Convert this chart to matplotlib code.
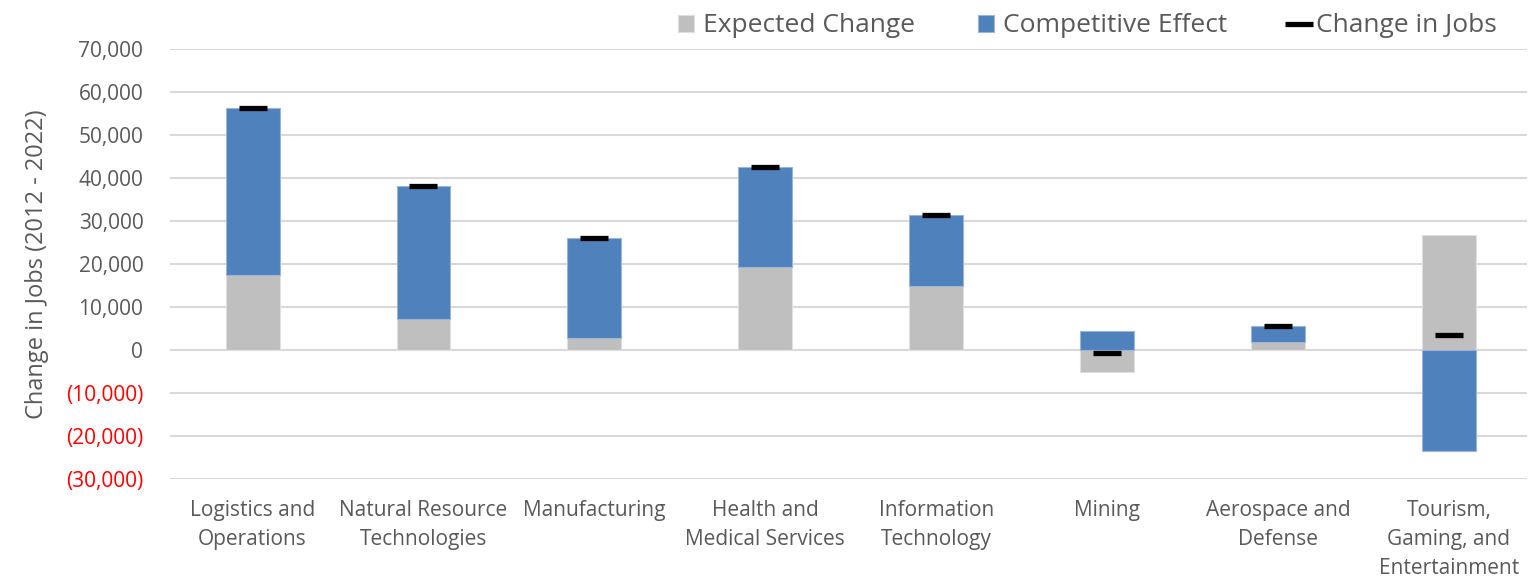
import numpy as np
import matplotlib.pyplot as plt
from matplotlib.ticker import FuncFormatter

categories = ['Logistics and\nOperations', 'Natural Resource\nTechnologies', 'Manufacturing',
              'Health and\nMedical Services', 'Information\nTechnology', 'Mining',
              'Aerospace and\nDefense', 'Tourism,\nGaming, and\nEntertainment']
expected = np.array([17400, 7200, 2700, 19300, 15000, -5100, 1900, 26700])
competitive = np.array([38900, 30900, 23300, 23300, 16400, 4400, 3700, -23500])
change = np.array([56300, 38200, 26000, 42600, 31500, -700, 5600, 3500])

plt.rcParams['font.family'] = ['Open Sans', 'DejaVu Sans']
text_col = '#595959'

fig = plt.figure(figsize=(15.29, 5.80), dpi=100)
ax = fig.add_axes([0.111, 0.174, 0.888, 0.7415])

x = np.arange(len(categories))
w = 0.315
b1 = ax.bar(x, expected, w, color='#bfbfbf', edgecolor='#e0e0e0', linewidth=0.8,
            label='Expected Change', zorder=2)
bottom = np.where(np.sign(expected) == np.sign(competitive), expected, 0)
b2 = ax.bar(x, competitive, w, bottom=bottom, color='#4f81bd', edgecolor='#9db6d8',
            linewidth=0.8, label='Competitive Effect', zorder=2)
l1, = ax.plot(x, change, linestyle='none', marker='_', markersize=19.5,
              markeredgewidth=3.8, color='black', label='Change in Jobs', zorder=3)

ax.set_ylim(-30000, 70000)
ax.set_xlim(-0.485, 7.46)
ax.set_yticks(np.arange(-30000, 70001, 10000))
ax.yaxis.set_major_formatter(FuncFormatter(
    lambda v, p: '0' if v == 0 else (f'({abs(v):,.0f})' if v < 0 else f'{v:,.0f}')))
ax.grid(axis='y', color='#d9d9d9', linewidth=1.5, zorder=0)
ax.set_axisbelow(True)
for s in ax.spines.values():
    s.set_visible(False)
ax.tick_params(length=0)
ax.tick_params(axis='y', labelsize=15, labelcolor=text_col, pad=19)
fig.canvas.draw()
for t in ax.get_yticklabels():
    if t.get_text().startswith('('):
        t.set_color('red')
ax.set_xticks(x)
ax.set_xticklabels(categories, fontsize=15, color=text_col, linespacing=1.5)
ax.tick_params(axis='x', pad=15)
ax.set_ylabel('Change in Jobs (2012 - 2022)', fontsize=17, color=text_col, labelpad=12)

leg = ax.legend([b1, b2, l1], ['Expected Change', 'Competitive Effect', 'Change in Jobs'],
                loc='lower right', bbox_to_anchor=(0.985, 1.0), ncol=3, frameon=False,
                fontsize=19, labelcolor=text_col, handlelength=0.6, handleheight=0.6,
                handletextpad=0.35, columnspacing=2.4, borderaxespad=0.0)

fig.savefig('out.png', dpi=100)
